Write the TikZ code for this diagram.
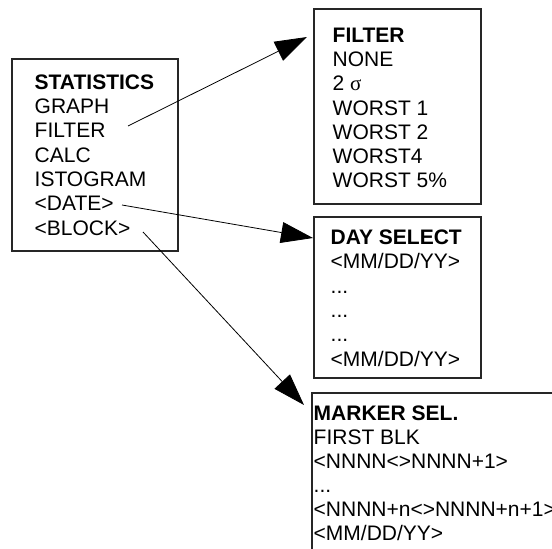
\documentclass[tikz,border=0pt]{standalone}
\usepackage{fontspec}
\setmainfont{Liberation Sans}
\newfontfamily\greekfont{Liberation Serif}
\usetikzlibrary{arrows.meta}
\newcommand\menudots{...}
\begin{document}
\begin{tikzpicture}[x=1pt, y=-1pt,
  menubox/.style={draw=black!85, line width=1.1pt, anchor=north west, inner sep=0pt, outer sep=0pt},
  menuline/.style={anchor=base west, inner sep=0pt, font=\fontsize{21}{24.3}\selectfont},
  menuhead/.style={anchor=base west, inner sep=0pt, font=\fontsize{21}{24.3}\selectfont\bfseries},
  link/.style={line width=0.8pt, -{Triangle[length=32pt, width=21pt]}}]
\clip (0,0) rectangle (552,549);

% frames of the four menus
\node[menubox, minimum width=166pt, minimum height=192pt] (stats) at (12,59) {};
\node[menubox, minimum width=167pt, minimum height=195pt] (filter) at (314,9) {};
\node[menubox, minimum width=167pt, minimum height=161pt] (day) at (314,217) {};
\node[menubox, minimum width=260pt, minimum height=200pt] (marker) at (312,393) {};

% STATISTICS menu
\node[menuhead] (st0) at (34.5,89.3) {STATISTICS};
\foreach \t [count=\i] in {GRAPH, FILTER, CALC, ISTOGRAM, <DATE>, <BLOCK>}
  \node[menuline, name=st\i] at (34.5,89.3+24.3*\i) {\t};

% FILTER menu
\node[menuhead] (fi0) at (332.5,42.7) {FILTER};
\foreach \t [count=\i] in {NONE, 2 {\greekfont σ}, WORST 1, WORST 2, WORST4, WORST 5\%}
  \node[menuline, name=fi\i] at (332.5,42.7+24.1*\i) {\t};

% DAY SELECT menu
\node[menuhead] (dy0) at (330.5,244.3) {DAY SELECT};
\foreach \t [count=\i] in {<MM/DD/YY>, \menudots, \menudots, \menudots, <MM/DD/YY>}
  \node[menuline, name=dy\i] at (330.5,244.3+24.4*\i) {\t};

% MARKER SEL. menu
\node[menuhead] (mk0) at (313.5,420.7) {MARKER SEL.};
\foreach \t [count=\i] in {FIRST BLK, <NNNN<>NNNN+1>, \menudots, <NNNN+n<>NNNN+n+1>, <MM/DD/YY>}
  \node[menuline, name=mk\i] at (313.5,420.7+24*\i) {\t};

% connectors from the menu entries to their sub-menus
\coordinate (fromfilter) at (128,126);
\coordinate (tofilter) at (307,37);
\coordinate (fromdate) at (122,205);
\coordinate (today) at (313,238);
\coordinate (fromblock) at (143,232);
\coordinate (tomarker) at (304,405);
\draw[link] (fromfilter) -- (tofilter);
\draw[link] (fromdate) -- (today);
\draw[link] (fromblock) -- (tomarker);
\end{tikzpicture}
\end{document}
